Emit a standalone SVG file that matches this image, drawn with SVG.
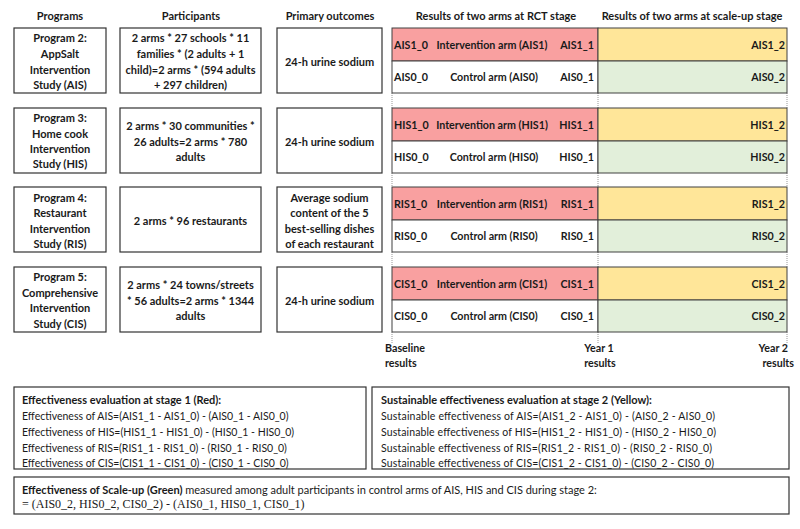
<svg xmlns="http://www.w3.org/2000/svg" width="800" height="529" viewBox="0 0 800 529">
<style>
text{font-family:Lato,"Liberation Sans",sans-serif;fill:#1a1a1a}
.h{font-size:11px;font-weight:bold;text-anchor:middle}
.b{font-size:11px;font-weight:bold;text-anchor:middle}
.c{font-size:10.7px;font-weight:bold}
.t{font-size:11px;font-weight:bold}
.f{font-size:10.5px}
.box{fill:#fff;stroke:#333;stroke-width:1.2}
.red{fill:#F9A0A0;stroke:#404040;stroke-width:1}
.yel{fill:#FFE699;stroke:#404040;stroke-width:1}
.wht{fill:#fff;stroke:#404040;stroke-width:1}
.grn{fill:#E2EFDA;stroke:#404040;stroke-width:1}
.dot{stroke:#999;stroke-width:1;stroke-dasharray:1 1;fill:none}
.m{text-anchor:middle}
.e{text-anchor:end}
</style>
<rect width="800" height="529" fill="#fff"/>
<g id="headers">
<text class="h" x="60" y="20">Programs</text>
<text class="h" x="191" y="20">Participants</text>
<text class="h" x="330" y="20">Primary outcomes</text>
<text class="h" x="496" y="20">Results of two arms at RCT stage</text>
<text class="h" x="692" y="20">Results of two arms at scale-up stage</text>
</g>
<g id="connectors">
<path class="dot" d="M392 93V108M598 93V108M787 93V108M392 173V187M598 173V187M787 173V187M392 252V267M598 252V267M787 252V267M392 332V343M598 332V343M787 332V343"/>
</g>
<g id="program2">
<rect class="box" x="14" y="28" width="92" height="65"/>
<text class="b" x="60" y="42">Program 2:</text>
<text class="b" x="60" y="58">AppSalt</text>
<text class="b" x="60" y="74">Intervention</text>
<text class="b" x="60" y="89">Study (AIS)</text>
<rect class="box" x="120" y="28" width="141" height="65"/>
<text class="b" x="190.5" y="42">2 arms * 27 schools * 11</text>
<text class="b" x="190.5" y="58">families * (2 adults + 1</text>
<text class="b" x="190.5" y="74">child)=2 arms * (594 adults</text>
<text class="b" x="190.5" y="89">+ 297 children)</text>
<rect class="box" x="277" y="28" width="105" height="65"/>
<text class="b" x="329.5" y="66">24-h urine sodium</text>
<rect class="red" x="392" y="28" width="206" height="33"/>
<rect class="yel" x="598" y="28" width="189" height="33"/>
<rect class="wht" x="392" y="61" width="206" height="32"/>
<rect class="grn" x="598" y="61" width="189" height="32"/>
<text class="c" x="394" y="49">AIS1_0</text>
<text class="c m" x="492" y="49">Intervention arm (AIS1)</text>
<text class="c e" x="594" y="49">AIS1_1</text>
<text class="c e" x="785" y="49">AIS1_2</text>
<text class="c" x="394" y="81">AIS0_0</text>
<text class="c m" x="494" y="81">Control arm (AIS0)</text>
<text class="c e" x="594" y="81">AIS0_1</text>
<text class="c e" x="785" y="81">AIS0_2</text>
</g>
<g id="program3">
<rect class="box" x="14" y="108" width="92" height="65"/>
<text class="b" x="60" y="122">Program 3:</text>
<text class="b" x="60" y="138">Home cook</text>
<text class="b" x="60" y="153">Intervention</text>
<text class="b" x="60" y="168">Study (HIS)</text>
<rect class="box" x="120" y="108" width="141" height="65"/>
<text class="b" x="190.5" y="130">2 arms * 30 communities *</text>
<text class="b" x="190.5" y="146">26 adults=2 arms * 780</text>
<text class="b" x="190.5" y="161">adults</text>
<rect class="box" x="277" y="108" width="105" height="65"/>
<text class="b" x="329.5" y="146">24-h urine sodium</text>
<rect class="red" x="392" y="108" width="206" height="33"/>
<rect class="yel" x="598" y="108" width="189" height="33"/>
<rect class="wht" x="392" y="141" width="206" height="32"/>
<rect class="grn" x="598" y="141" width="189" height="32"/>
<text class="c" x="394" y="129">HIS1_0</text>
<text class="c m" x="492" y="129">Intervention arm (HIS1)</text>
<text class="c e" x="594" y="129">HIS1_1</text>
<text class="c e" x="785" y="129">HIS1_2</text>
<text class="c" x="394" y="161">HIS0_0</text>
<text class="c m" x="494" y="161">Control arm (HIS0)</text>
<text class="c e" x="594" y="161">HIS0_1</text>
<text class="c e" x="785" y="161">HIS0_2</text>
</g>
<g id="program4">
<rect class="box" x="14" y="187" width="92" height="65"/>
<text class="b" x="60" y="202">Program 4:</text>
<text class="b" x="60" y="217">Restaurant</text>
<text class="b" x="60" y="233">Intervention</text>
<text class="b" x="60" y="248">Study (RIS)</text>
<rect class="box" x="120" y="187" width="141" height="65"/>
<text class="b" x="190.5" y="225">2 arms * 96 restaurants</text>
<rect class="box" x="277" y="187" width="105" height="65"/>
<text class="b" x="329.5" y="202">Average sodium</text>
<text class="b" x="329.5" y="217">content of the 5</text>
<text class="b" x="329.5" y="233">best-selling dishes</text>
<text class="b" x="329.5" y="248">of each restaurant</text>
<rect class="red" x="392" y="187" width="206" height="33"/>
<rect class="yel" x="598" y="187" width="189" height="33"/>
<rect class="wht" x="392" y="220" width="206" height="32"/>
<rect class="grn" x="598" y="220" width="189" height="32"/>
<text class="c" x="394" y="208">RIS1_0</text>
<text class="c m" x="492" y="208">Intervention arm (RIS1)</text>
<text class="c e" x="594" y="208">RIS1_1</text>
<text class="c e" x="785" y="208">RIS1_2</text>
<text class="c" x="394" y="240">RIS0_0</text>
<text class="c m" x="494" y="240">Control arm (RIS0)</text>
<text class="c e" x="594" y="240">RIS0_1</text>
<text class="c e" x="785" y="240">RIS0_2</text>
</g>
<g id="program5">
<rect class="box" x="14" y="267" width="92" height="65"/>
<text class="b" x="60" y="281">Program 5:</text>
<text class="b" x="60" y="297">Comprehensive</text>
<text class="b" x="60" y="312">Intervention</text>
<text class="b" x="60" y="328">Study (CIS)</text>
<rect class="box" x="120" y="267" width="141" height="65"/>
<text class="b" x="190.5" y="289">2 arms * 24 towns/streets</text>
<text class="b" x="190.5" y="305">* 56 adults=2 arms * 1344</text>
<text class="b" x="190.5" y="320">adults</text>
<rect class="box" x="277" y="267" width="105" height="65"/>
<text class="b" x="329.5" y="305">24-h urine sodium</text>
<rect class="red" x="392" y="267" width="206" height="33"/>
<rect class="yel" x="598" y="267" width="189" height="33"/>
<rect class="wht" x="392" y="300" width="206" height="32"/>
<rect class="grn" x="598" y="300" width="189" height="32"/>
<text class="c" x="394" y="288">CIS1_0</text>
<text class="c m" x="492" y="288">Intervention arm (CIS1)</text>
<text class="c e" x="594" y="288">CIS1_1</text>
<text class="c e" x="785" y="288">CIS1_2</text>
<text class="c" x="394" y="320">CIS0_0</text>
<text class="c m" x="494" y="320">Control arm (CIS0)</text>
<text class="c e" x="594" y="320">CIS0_1</text>
<text class="c e" x="785" y="320">CIS0_2</text>
</g>
<g id="timeline">
<text class="c" x="385" y="352">Baseline</text>
<text class="c" x="385" y="367">results</text>
<text class="c m" x="599" y="352">Year 1</text>
<text class="c m" x="600" y="367">results</text>
<text class="c e" x="788" y="352">Year 2</text>
<text class="c e" x="794" y="367">results</text>
</g>
<g id="stage1">
<rect class="box" x="14" y="387" width="352" height="82"/>
<text class="t" x="22" y="404">Effectiveness evaluation at stage 1 (Red):</text>
<text class="f" x="22" y="420">Effectiveness of AIS=(AIS1_1 - AIS1_0) - (AIS0_1 - AIS0_0)</text>
<text class="f" x="22" y="436">Effectiveness of HIS=(HIS1_1 - HIS1_0) - (HIS0_1 - HIS0_0)</text>
<text class="f" x="22" y="452">Effectiveness of RIS=(RIS1_1 - RIS1_0) - (RIS0_1 - RIS0_0)</text>
<text class="f" x="22" y="467">Effectiveness of CIS=(CIS1_1 - CIS1_0) - (CIS0_1 - CIS0_0)</text>
</g>
<g id="stage2">
<rect class="box" x="372" y="387" width="417" height="82"/>
<text class="t" x="381" y="404">Sustainable effectiveness evaluation at stage 2 (Yellow):</text>
<text class="f" x="381" y="420" textLength="334">Sustainable effectiveness of AIS=(AIS1_2 - AIS1_0) - (AIS0_2 - AIS0_0)</text>
<text class="f" x="381" y="436" textLength="335">Sustainable effectiveness of HIS=(HIS1_2 - HIS1_0) - (HIS0_2 - HIS0_0)</text>
<text class="f" x="381" y="452" textLength="331">Sustainable effectiveness of RIS=(RIS1_2 - RIS1_0) - (RIS0_2 - RIS0_0)</text>
<text class="f" x="381" y="467" textLength="333">Sustainable effectiveness of CIS=(CIS1_2 - CIS1_0) - (CIS0_2 - CIS0_0)</text>
</g>
<g id="scaleup">
<rect class="box" x="14" y="477" width="775" height="37"/>
<text x="22" y="494" style="font-size:11px"><tspan font-weight="bold">Effectiveness of Scale-up (Green)</tspan> measured among adult participants in control arms of AIS, HIS and CIS during stage 2:</text>
<text x="22" y="508" style="font-family:'Liberation Serif',serif;font-size:12px">= (AIS0_2, HIS0_2, CIS0_2) - (AIS0_1, HIS0_1, CIS0_1)</text>
</g>
</svg>
